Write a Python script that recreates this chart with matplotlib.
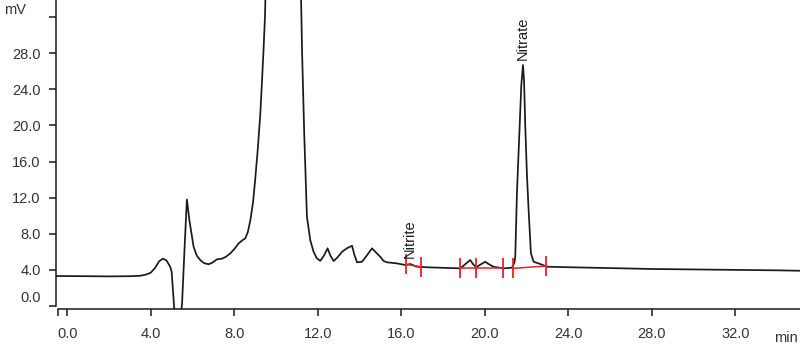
import matplotlib
matplotlib.use("Agg")
import matplotlib.pyplot as plt
import matplotlib.transforms as mtransforms

plt.rcParams["font.family"] = ["Liberation Sans", "DejaVu Sans"]

# Cromatograma (tiempo en min, señal en mV)
tiempo = [-0.5, 1.0, 2.0, 3.0, 3.5, 3.8, 4.0, 4.2, 4.4, 4.58, 4.75, 4.93,
          5.0, 5.1, 5.2, 5.35, 5.5, 5.62, 5.73, 5.85, 6.05, 6.2, 6.37, 6.55,
          6.77, 6.95, 7.17, 7.41, 7.6, 7.81, 8.0, 8.21, 8.4, 8.53, 8.65, 8.77,
          8.9, 9.0, 9.13, 9.25, 9.33, 9.4, 9.47, 9.55, 9.8, 10.3, 10.8, 11.15,
          11.25, 11.35, 11.48, 11.64, 11.8, 11.95, 12.12, 12.3, 12.47, 12.6,
          12.76, 12.95, 13.16, 13.4, 13.64, 13.75, 13.88, 14.12, 14.35, 14.6,
          14.8, 14.99, 15.15, 15.31, 15.79, 16.19, 16.43, 16.75, 17.23, 17.87,
          18.4, 18.83, 19.05, 19.3, 19.45, 19.59, 19.8, 20.02, 20.22, 20.42,
          20.9, 21.3, 21.42, 21.46, 21.54, 21.67, 21.75, 21.83, 21.88, 21.94,
          22.02, 22.1, 22.21, 22.34, 22.66, 22.98, 24.1, 26.0, 28.0, 30.0,
          32.0, 34.0, 35.2]
senal = [3.32, 3.3, 3.28, 3.3, 3.35, 3.5, 3.7, 4.2, 4.95, 5.25, 5.05, 4.35,
         3.8, 0.5, -3.0, -3.0, 0.3, 6.5, 11.8, 9.5, 6.57, 5.6, 5.09, 4.75,
         4.62, 4.8, 5.17, 5.24, 5.45, 5.83, 6.3, 6.94, 7.3, 7.5, 8.2, 9.5,
         11.5, 13.95, 17.5, 21.4, 25.0, 28.3, 32.0, 40.0, 90.0, 150.0, 110.0, 40.0,
         28.0, 19.1, 9.9, 7.3, 6.0, 5.3, 5.0, 5.6, 6.39, 5.6,
         4.98, 5.4, 6.0, 6.4, 6.68, 5.7, 4.84, 4.9, 5.6, 6.39,
         5.9, 5.46, 5.0, 4.84, 4.72, 4.54, 4.65, 4.35, 4.29, 4.24,
         4.2, 4.17, 4.6, 5.09, 4.6, 4.29, 4.6, 4.9, 4.6, 4.35,
         4.17, 4.24, 4.8, 5.46, 12.5, 19.9, 24.5, 26.7, 25.0, 19.9,
         14.5, 10.6, 5.84, 4.9, 4.65, 4.35, 4.29, 4.2, 4.1, 4.05,
         4.0, 3.95, 3.9]

# Marcas de integración (inicio/fin de picos) y su línea base
marcas_t = [16.24, 16.94, 18.83, 19.59, 20.87, 21.35, 22.95]
marcas_mv = [4.6, 4.35, 4.17, 4.17, 4.17, 4.17, 4.43]
segmentos = [(0, 1), (2, 3), (3, 4), (5, 6)]

# Nombres de los picos
picos = ["Nitrite", "Nitrate"]
picos_t = [16.4, 21.83]
picos_mv = [5.3, 27.2]

xticks = [0, 4, 8, 12, 16, 20, 24, 28, 32]
yticks = [0, 4, 8, 12, 16, 20, 24, 28, 32]

fig = plt.figure(figsize=(8, 3.52), dpi=100)
ax = fig.add_axes([0.07, 0.123, 0.93, 0.877])

ax.plot(tiempo, senal, color="#1a1a1a", lw=1.25)

for i, j in segmentos:
    ax.plot([marcas_t[i], marcas_t[j]], [marcas_mv[i], marcas_mv[j]],
            color="#e8202a", lw=1.1)
ax.plot(marcas_t, marcas_mv, ls="none", marker="|", ms=14,
        mew=1.3, color="#e8202a")

for nombre, t, mv in zip(picos, picos_t, picos_mv):
    ax.text(t, mv, nombre, rotation=90, ha="center", va="bottom",
            fontsize=10.5, color="#1a1a1a")

xmin, xmax = -0.54, 35.1
ax.set_xlim(xmin, xmax)
ax.set_ylim(-0.3, 33.9)

ax.spines["top"].set_visible(False)
ax.spines["right"].set_visible(False)
ax.spines["left"].set_bounds(0, 33.9)
ax.spines["bottom"].set_bounds(-0.45, xmax)
for s in ["left", "bottom"]:
    ax.spines[s].set_linewidth(1.1)
    ax.spines[s].set_color("#1a1a1a")

ax.set_xticks(xticks)
ax.set_xticklabels([f"{v:.1f}" for v in xticks])
ax.set_xticks([-0.45], minor=True)
ax.set_yticks(yticks)
ax.set_yticklabels([f"{v:.1f}" for v in yticks[:-1]] + [""])

ax.tick_params(axis="both", which="both", length=5, width=1.1,
               color="#1a1a1a", labelsize=10.5, labelcolor="#333333")
ax.tick_params(axis="x", pad=8)
ax.tick_params(axis="y", pad=6)

# la etiqueta 0.0 del eje y aparece algo más arriba
lab0 = ax.get_yticklabels()[0]
lab0.set_transform(lab0.get_transform() +
                   mtransforms.ScaledTranslation(0, 7 / 72, fig.dpi_scale_trans))

fig.text(4 / 800, 1 - 10 / 352, "mV", ha="left", va="center",
         fontsize=10.5, color="#333333")
fig.text(798 / 800, 1 - 338 / 352, "min", ha="right", va="center",
         fontsize=10.5, color="#333333")

fig.savefig("out.png", dpi=100)
